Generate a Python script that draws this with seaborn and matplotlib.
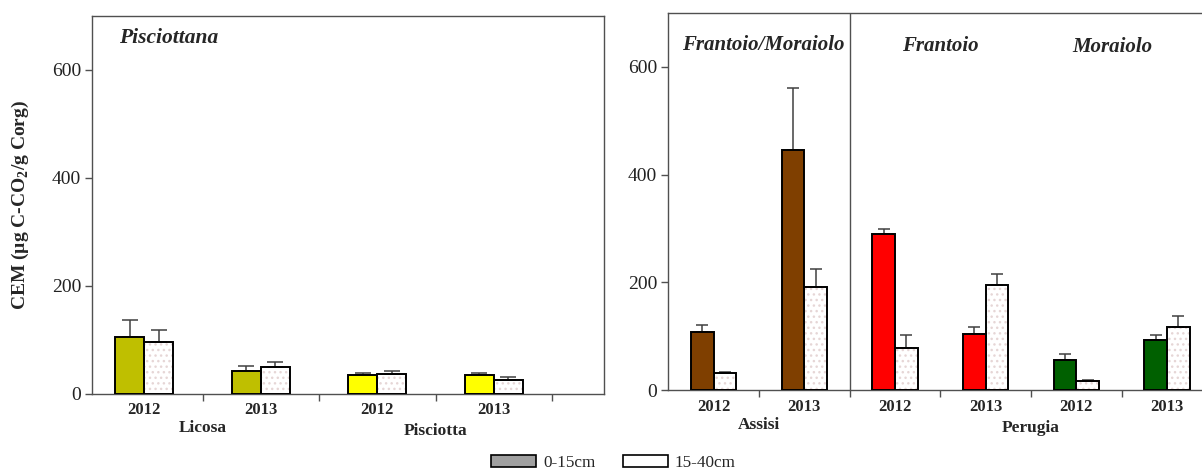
import matplotlib
matplotlib.use("Agg")
import matplotlib.pyplot as plt
from matplotlib.patches import Patch, Rectangle
import seaborn as sns
import numpy as np
import pandas as pd

# --- data ---
depths = ["0-15cm", "15-40cm"]

left_cats = ["Licosa 2012", "Licosa 2013", "Pisciotta 2012", "Pisciotta 2013"]
left_years = ["2012", "2013", "2012", "2013"]
left_top = [105.6, 42, 34, 34.6]
left_top_se = [31, 10, 5, 4.5]
left_sub = [96.3, 50, 36.5, 25.4]
left_sub_se = [22, 9, 5, 6]
left_colors = ["#bfbf00", "#bfbf00", "#ffff00", "#ffff00"]
left_sites = ["Licosa", "Pisciotta"]

right_cats = ["Assisi 2012", "Assisi 2013", "Frantoio 2012", "Frantoio 2013",
              "Moraiolo 2012", "Moraiolo 2013"]
right_years = ["2012", "2013", "2012", "2013", "2012", "2013"]
right_top = [108.5, 446, 289, 105, 57, 92.6]
right_top_se = [12, 115, 10, 12, 10, 9]
right_sub = [31.4, 192, 78, 195.6, 17.8, 117.8]
right_sub_se = [2, 33, 24, 20, 2, 20]
right_colors = ["#7f3f00", "#7f3f00", "#ff0000", "#ff0000", "#006000", "#006000"]
right_sites = ["Assisi", "Perugia"]

sns.set_style("ticks")
plt.rcParams["font.family"] = ["Liberation Serif", "DejaVu Serif"]
plt.rcParams["mathtext.fontset"] = "custom"
plt.rcParams["mathtext.rm"] = "Liberation Serif"
plt.rcParams["mathtext.bf"] = "Liberation Serif:bold"

SPINE = "#505050"
DOTS = "#e6d6d6"


def make_df(cats, top, sub):
    return pd.DataFrame({
        "cat": cats * 2,
        "depth": [depths[0]] * len(cats) + [depths[1]] * len(cats),
        "value": list(top) + list(sub),
    })


def draw_panel(ax, cats, years, top, top_se, sub, sub_se, colors, xlim, capsize):
    df = make_df(cats, top, sub)
    sns.barplot(data=df, x="cat", y="value", hue="depth", order=cats,
                hue_order=depths, width=0.5, errorbar=None, legend=False,
                edgecolor="black", linewidth=1.4, ax=ax, zorder=3)
    c_top, c_sub = ax.containers[0], ax.containers[1]
    for p, col in zip(c_top, colors):
        p.set_facecolor(col)
    # shallow dotted fill for the deeper layer
    for p in c_sub:
        ax.add_patch(Rectangle(p.get_xy(), p.get_width(), p.get_height(),
                               fill=False, hatch="...", edgecolor=DOTS,
                               lw=0, zorder=3.5))
        p.set_zorder(4)
        p.set_facecolor("none")
    for cont, vals, se in [(c_top, top, top_se), (c_sub, sub, sub_se)]:
        xs = [p.get_x() + p.get_width() / 2 for p in cont]
        ax.errorbar(xs, vals, yerr=[np.zeros(len(se)), se], fmt="none",
                    ecolor="#404040", elinewidth=1.1, capsize=capsize,
                    capthick=1.1, zorder=2)

    ax.set_xlim(*xlim)
    ax.set_ylim(0, 700)
    ax.set_yticks([0, 200, 400, 600])
    ax.set_xticks(range(len(cats)))
    ax.set_xticklabels(years, fontweight="bold", fontsize=12)
    ax.set_xticks(np.arange(0.5, len(cats) - 0.4, 1.0), minor=True)
    ax.tick_params(axis="x", which="major", length=0, pad=6)
    ax.tick_params(axis="x", which="minor", length=5, width=1, color=SPINE,
                   direction="out")
    ax.tick_params(axis="y", length=5, width=1, color=SPINE, direction="out",
                   labelsize=14, labelcolor="#222222", pad=3)
    ax.set_xlabel("")
    ax.set_ylabel("")
    for s in ax.spines.values():
        s.set_color(SPINE)
        s.set_linewidth(1.0)


fig = plt.figure(figsize=(12.02, 4.70), dpi=100)
ax1 = fig.add_axes([0.0768, 0.1623, 0.426, 0.8043])
ax2 = fig.add_axes([0.556, 0.1696, 0.4527, 0.8034])

draw_panel(ax1, left_cats, left_years, left_top, left_top_se, left_sub,
           left_sub_se, left_colors, (-0.447, 3.95), 6)
draw_panel(ax2, right_cats, right_years, right_top, right_top_se, right_sub,
           right_sub_se, right_colors, (-0.5, 5.5), 4.3)
ax2.spines["right"].set_visible(False)
ax2.axvline(1.5, color=SPINE, lw=1.0, zorder=1)

ax1.set_ylabel("CEM (µg C-CO$_\\mathbf{2}$/g Corg)", fontsize=14,
               fontweight="bold", va="center")
ax1.yaxis.set_label_coords(-0.141, 0.5)

# site labels under the years
xt1 = ax1.get_xaxis_transform()
ax1.text(0.5, -0.092, left_sites[0], transform=xt1, ha="center", va="center",
         fontsize=12.5, fontweight="bold")
ax1.text(2.5, -0.099, left_sites[1], transform=xt1, ha="center", va="center",
         fontsize=12.5, fontweight="bold")
xt2 = ax2.get_xaxis_transform()
ax2.text(0.5, -0.092, right_sites[0], transform=xt2, ha="center", va="center",
         fontsize=12.5, fontweight="bold")
ax2.text(3.5, -0.099, right_sites[1], transform=xt2, ha="center", va="center",
         fontsize=12.5, fontweight="bold")

# cultivar labels
ax1.text(-0.217, 0.941, "Pisciottana", transform=xt1, ha="left", va="center",
         fontsize=15.5, fontweight="bold", style="italic")
ax2.text(0.55, 0.9145, "Frantoio/Moraiolo", transform=xt2, ha="center",
         va="center", fontsize=15, fontweight="bold", style="italic")
ax2.text(2.5, 0.912, "Frantoio", transform=xt2, ha="center", va="center",
         fontsize=15, fontweight="bold", style="italic")
ax2.text(4.4, 0.909, "Moraiolo", transform=xt2, ha="center", va="center",
         fontsize=15, fontweight="bold", style="italic")

handles = [Patch(facecolor="#a0a0a0", edgecolor="black", lw=1.2),
           Patch(facecolor="white", edgecolor="black", lw=1.2)]
fig.legend(handles, depths, loc="center", bbox_to_anchor=(0.5104, 0.0155),
           ncol=2, frameon=False, fontsize=12.3, handlelength=2.64,
           handleheight=0.78, handletextpad=0.4, columnspacing=1.6,
           borderpad=0, borderaxespad=0)

fig.savefig("out.png", dpi=100)
